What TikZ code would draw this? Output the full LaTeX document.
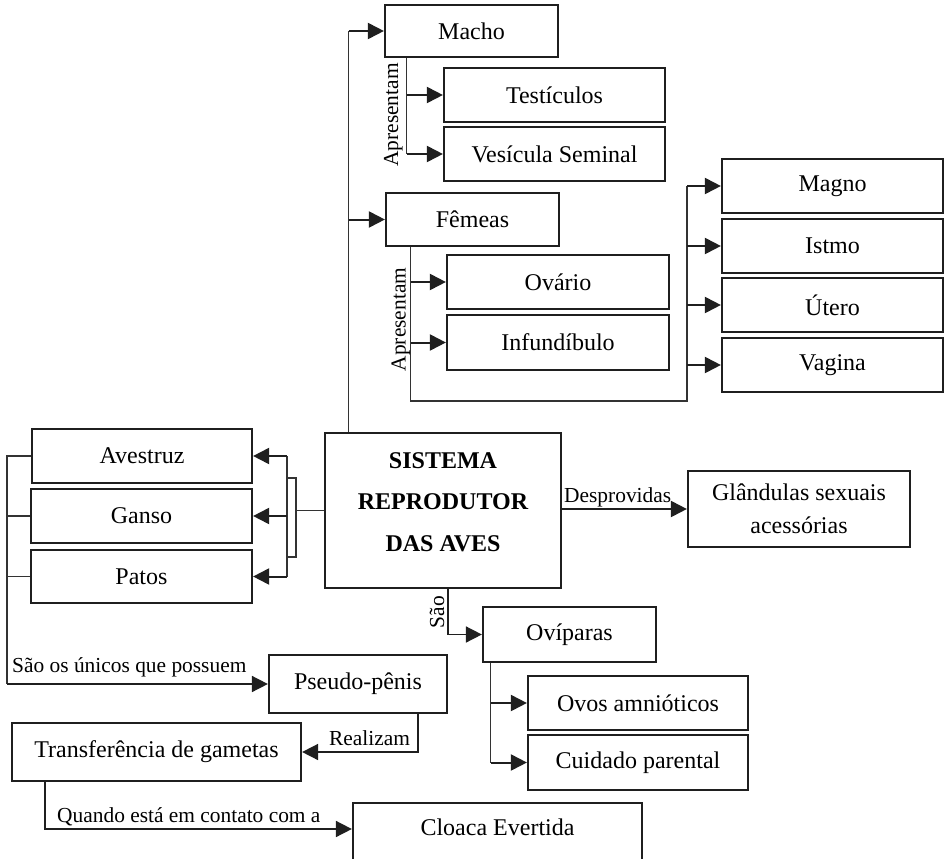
\documentclass[tikz,border=0pt]{standalone}
\usepackage{fontspec}
\setmainfont{Liberation Serif}
\usetikzlibrary{arrows.meta,calc}
\begin{document}
\begin{tikzpicture}[x=1pt,y=-1pt,
  box/.style={draw=black!88, line width=2.2pt, inner sep=0pt, align=center, font=\fontsize{24}{33}\selectfont},
  lbl/.style={inner sep=0pt, font=\fontsize{21.4}{24}\selectfont},
  trunk/.style={line width=1.1pt, draw=black!80},
  arr/.style={line width=2pt, draw=black!88, -{Triangle[length=16pt,width=16pt]}},
]
\useasboundingbox (0,0) rectangle (950,859);
\clip (0,0) rectangle (950,859);

% boxes
\node[box,minimum width=173pt,minimum height=52pt] (macho) at (471.5,31) {Macho};
\node[box,minimum width=221pt,minimum height=54pt] (test) at (554.5,95) {Testículos};
\node[box,minimum width=221pt,minimum height=54pt] (vesic) at (554.5,154) {Vesícula Seminal};
\node[box,minimum width=173pt,minimum height=53pt] (femeas) at (472.5,219.5) {Fêmeas};
\node[box,minimum width=222pt,minimum height=54pt] (ovario) at (558,282) {Ovário};
\node[box,minimum width=222pt,minimum height=55pt] (infund) at (558,342.5) {Infundíbulo};
\node[box,minimum width=221pt,minimum height=54pt] (magno) at (832.5,186) {Magno};
\node[box,minimum width=221pt,minimum height=54pt] (istmo) at (832.5,246) {Istmo};
\node[box,minimum width=221pt,minimum height=54pt] (utero) at (832.5,305) {Útero};
\node[box,minimum width=221pt,minimum height=54pt] (vagina) at (832.5,365) {Vagina};
\node[box,minimum width=220pt,minimum height=54pt] (avestruz) at (142,456) {Avestruz};
\node[box,minimum width=221pt,minimum height=54pt] (ganso) at (141.5,516) {Ganso};
\node[box,minimum width=221pt,minimum height=53pt] (patos) at (141.5,576.5) {Patos};
\node[box,minimum width=236pt,minimum height=155pt] (central) at (443,510.5) {};
\node[font=\bfseries\fontsize{24}{41.5}\selectfont, align=center, inner sep=0pt] (centraltxt) at (443,502) {SISTEMA\\REPRODUTOR\\DAS AVES};
\node[box,minimum width=222pt,minimum height=76pt] (gland) at (799,509) {Glândulas sexuais\\acessórias};
\node[box,minimum width=173pt,minimum height=55pt] (oviparas) at (569.5,634.5) {Ovíparas};
\node[box,minimum width=220pt,minimum height=54pt] (ovos) at (638,703) {Ovos amnióticos};
\node[box,minimum width=220pt,minimum height=55pt] (cuidado) at (638,762.5) {Cuidado parental};
\node[box,minimum width=178pt,minimum height=58pt] (pseudo) at (358,684) {Pseudo-pênis};
\node[box,minimum width=289pt,minimum height=58pt] (transf) at (156.5,752) {Transferência de gametas};
\node[box,minimum width=289pt,minimum height=60pt] (cloaca) at (497.5,833) {};
\node[font=\fontsize{24}{28}\selectfont, inner sep=0pt] (cloacatxt) at (497.5,827) {Cloaca Evertida};

% top trunk from central to Macho / Femeas
\coordinate (tl) at ($(central.north west)+(25,0)$);
\draw[trunk] (tl) -- (tl |- macho.west);
\draw[arr] (tl |- macho.west) -- (macho.west);
\draw[arr] (tl |- femeas.west) -- (femeas.west);

% Macho
\coordinate (mt) at ($(macho.south west)+(23,0)$);
\draw[trunk] (mt) -- (mt |- vesic.west);
\draw[arr] (mt |- test.west) -- (test.west);
\draw[arr] (mt |- vesic.west) -- (vesic.west);
\node[lbl,rotate=90,anchor=base] (apr1) at (398,115) {Apresentam};

% Femeas
\coordinate (ft) at ($(femeas.south west)+(26,0)$);
\coordinate (fright) at (687,401);
\draw[trunk] (ft) -- (ft |- fright) -- (fright) -- (fright |- magno.west);
\draw[arr] (ft |- ovario.west) -- (ovario.west);
\draw[arr] (ft |- infund.west) -- (infund.west);
\draw[arr] (fright |- magno.west) -- (magno.west);
\draw[arr] (fright |- istmo.west) -- (istmo.west);
\draw[arr] (fright |- utero.west) -- (utero.west);
\draw[arr] (fright |- vagina.west) -- (vagina.west);
\node[lbl,rotate=90,anchor=base] (apr2) at (405.5,319.5) {Apresentam};

% central to left group
\coordinate (bk) at (296,510.5);
\coordinate (bx) at (287,516);
\draw[trunk] (central.west) -- (bk);
\draw[trunk] (bx |- 0,478) -- (bk |- 0,478) -- (bk |- 0,557) -- (bx |- 0,557);
\draw[trunk] (bx |- avestruz.east) -- (bx |- patos.east);
\draw[arr] (bx |- avestruz.east) -- (avestruz.east);
\draw[arr] (bx |- ganso.east) -- (ganso.east);
\draw[arr] (bx |- patos.east) -- (patos.east);

% left trunk to Pseudo-penis
\coordinate (lx) at (7,683);
\draw[trunk] (avestruz.west) -- (lx |- avestruz.west) -- (lx |- pseudo.west);
\draw[trunk] (ganso.west) -- (lx |- ganso.west);
\draw[trunk] (patos.west) -- (lx |- patos.west);
\draw[arr,line width=1.6pt] (lx |- pseudo.west) -- (pseudo.west);
\node[lbl,anchor=base west] (l1) at (12,672) {São os únicos que possuem};

% Realizam
\coordinate (rz) at ($(pseudo.south east)+(-30,0)$);
\draw[arr,line width=1.6pt] (rz) -- (rz |- transf.east) -- (transf.east);
\node[lbl,anchor=base west] (l2) at (329,745) {Realizam};

% Quando
\coordinate (qz) at ($(transf.south west)+(34,0)$);
\coordinate (cq) at ($(cloaca.west)+(0,-4)$);
\draw[arr,line width=1.6pt] (qz) -- (qz |- cq) -- (cq);
\node[lbl,anchor=base west] (l3) at (57,822) {Quando está em contato com a};

% Desprovidas
\draw[arr] (central.east |- gland.west) -- (gland.west);
\node[lbl,anchor=base west] (l4) at (564,502) {Desprovidas};

% Sao -> Oviparas
\coordinate (sz) at ($(central.south)+(5,0)$);
\draw[arr,line width=1.6pt] (sz) -- (sz |- oviparas.west) -- (oviparas.west);
\node[lbl,rotate=90,anchor=base] (l5) at (444,612) {São};

% Oviparas
\coordinate (ot) at ($(oviparas.south west)+(9,0)$);
\draw[trunk] (ot) -- (ot |- cuidado.west);
\draw[arr] (ot |- ovos.west) -- (ovos.west);
\draw[arr] (ot |- cuidado.west) -- (cuidado.west);
\end{tikzpicture}
\end{document}
